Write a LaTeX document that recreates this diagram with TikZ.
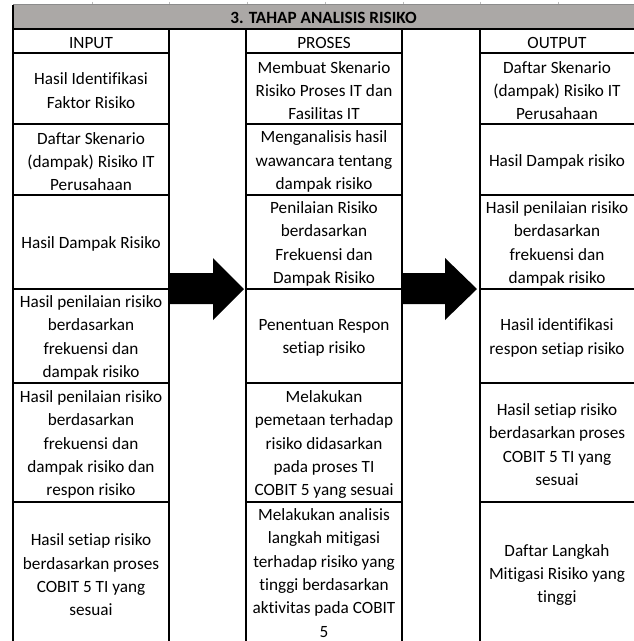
\documentclass[tikz,border=0pt]{standalone}
\usepackage{fontspec}
\setmainfont{Carlito}[Ligatures={NoCommon,NoRequired,NoContextual}]
\definecolor{headgray}{RGB}{171,168,166}
\definecolor{gridgray}{RGB}{140,140,140}
\tikzset{
  cell/.style={align=center, font=\fontsize{17.2}{23.3}\selectfont, inner sep=0pt, text=black, yshift=-2pt},
  titletext/.style={font=\fontsize{17.2}{23.3}\selectfont\bfseries, inner sep=0pt, yshift=-1pt},
  grid/.style={line width=2pt, black},
  thingrid/.style={line width=1.4pt, black},
  blockarrow/.style={fill=black, draw=none},
}
\begin{document}
\begin{tikzpicture}[x=1pt,y=-1pt]
\useasboundingbox (0,0) rectangle (634,641);
% spreadsheet gridline on top
\draw[gridgray, line width=0.8pt] (13,4) -- (636,4);
\foreach \xx in {92,169,247,325,403,480,558} \draw[gridgray!60, line width=0.6pt] (\xx,1.5) -- (\xx,4);
% header band
\fill[headgray] (13,4.5) rectangle (636,29);
\node[titletext] (title) at (323.5,17) {3. TAHAP ANALISIS RISIKO};
% vertical borders
\draw[grid] (13,4.5) -- (13,646);
\foreach \xx in {169,246,402,480} \draw[grid] (\xx,29) -- (\xx,646);
% header bottom
\draw[grid] (12,29) -- (636,29);
% sub-header line
\foreach \xa/\xb in {13/169,246/402,480/636} \draw[thingrid] (\xa,53) -- (\xb,53);
% row lines
\foreach \yy in {124,195,289,383,502}
  \foreach \xa/\xb in {13/169,246/402,480/636} \draw[grid] (\xa,\yy) -- (\xb,\yy);
% block arrows
\fill[blockarrow] (168,273) -- (213,273) -- (213,258) -- (244,289) -- (213,320) -- (213,304) -- (168,304) -- cycle;
\fill[blockarrow] (401,273) -- (445,273) -- (445,258) -- (477,289) -- (445,320) -- (445,304) -- (401,304) -- cycle;
% column headers
\node[cell] (i0) at (91,41) {INPUT};
\node[cell] (p0) at (324,41) {PROSES};
\node[cell] (o0) at (557,41) {OUTPUT};
% INPUT column
\node[cell] (i1) at (91,88.5) {Hasil Identifikasi\\Faktor Risiko};
\node[cell] (i2) at (91,159.5) {Daftar Skenario\\(dampak) Risiko IT\\Perusahaan};
\node[cell] (i3) at (91,242) {Hasil Dampak Risiko};
\node[cell] (i4) at (91,336) {Hasil penilaian risiko\\berdasarkan\\frekuensi dan\\dampak risiko};
\node[cell] (i5) at (91,442.5) {Hasil penilaian risiko\\berdasarkan\\frekuensi dan\\dampak risiko dan\\respon risiko};
\node[cell] (i6) at (91,573) {Hasil setiap risiko\\berdasarkan proses\\COBIT 5 TI yang\\sesuai};
% PROSES column
\node[cell] (p1) at (324,88.5) {Membuat Skenario\\Risiko Proses IT dan\\Fasilitas IT};
\node[cell] (p2) at (324,159.5) {Menganalisis hasil\\wawancara tentang\\dampak risiko};
\node[cell] (p3) at (324,242) {Penilaian Risiko\\berdasarkan\\Frekuensi dan\\Dampak Risiko};
\node[cell] (p4) at (324,336) {Penentuan Respon\\setiap risiko};
\node[cell] (p5) at (324,442.5) {Melakukan\\pemetaan terhadap\\risiko didasarkan\\pada proses TI\\COBIT 5 yang sesuai};
\node[cell] (p6) at (324,571) {Melakukan analisis\\langkah mitigasi\\terhadap risiko yang\\tinggi berdasarkan\\aktivitas pada COBIT\\5};
% OUTPUT column
\node[cell] (o1) at (557,88.5) {Daftar Skenario\\(dampak) Risiko IT\\Perusahaan};
\node[cell] (o2) at (557,159.5) {Hasil Dampak risiko};
\node[cell] (o3) at (557,242) {Hasil penilaian risiko\\berdasarkan\\frekuensi dan\\dampak risiko};
\node[cell] (o4) at (557,336) {Hasil identifikasi\\respon setiap risiko};
\node[cell] (o5) at (557,442.5) {Hasil setiap risiko\\berdasarkan proses\\COBIT 5 TI yang\\sesuai};
\node[cell] (o6) at (557,573) {Daftar Langkah\\Mitigasi Risiko yang\\tinggi};
\end{tikzpicture}
\end{document}
